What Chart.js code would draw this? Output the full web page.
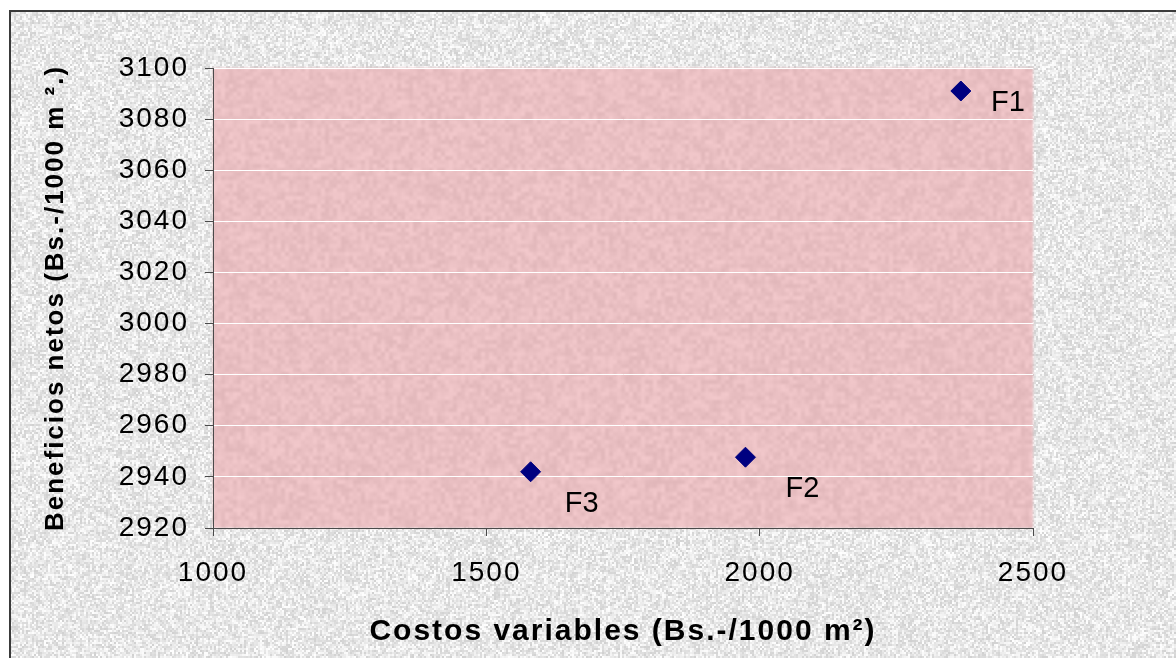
<!DOCTYPE html>
<html>
<head>
<meta charset="utf-8">
<script src="https://cdn.jsdelivr.net/npm/chart.js@4/dist/chart.umd.min.js"></script>
<style>
  html, body { margin: 0; padding: 0; background: #fff; }
  canvas { display: block; }
</style>
</head>
<body>
<canvas id="chart" width="1176" height="658"></canvas>
<script>
// Tratamientos: costos variables vs beneficios netos
const labels = ['F1', 'F2', 'F3'];
const costos = [2368, 1974, 1581];
const beneficios = [3091, 2947.7, 2942];
const yTicks = [2920, 2940, 2960, 2980, 3000, 3020, 3040, 3060, 3080, 3100];
const xTicks = [1000, 1500, 2000, 2500];

// textura granulada (generador fijo para que salga igual cada vez)
function makeTexture(w, h, base, spread, block, seed) {
  const c = document.createElement('canvas');
  c.width = w; c.height = h;
  const g = c.getContext('2d');
  let s = seed;
  const rnd = () => { s = (s * 1664525 + 1013904223) % 4294967296; return s / 4294967296; };
  for (let y = 0; y < h; y += block) {
    for (let x = 0; x < w; x += block) {
      const d = (rnd() - 0.5) * spread;
      g.fillStyle = `rgb(${base[0] + d | 0},${base[1] + d | 0},${base[2] + d | 0})`;
      g.fillRect(x, y, block, block);
    }
  }
  return c;
}
const grayTex = makeTexture(1176, 658, [232, 232, 232], 46, 2, 12345);
const pinkTex = makeTexture(830, 470, [234, 192, 195], 18, 4, 777);

const fondo = {
  id: 'fondo',
  beforeDraw(chart) {
    const ctx = chart.ctx;
    const a = chart.chartArea;
    ctx.save();
    ctx.fillStyle = '#fff';
    ctx.fillRect(0, 0, chart.width, chart.height);
    ctx.drawImage(grayTex, 10, 11, chart.width - 10, chart.height - 11, 10, 11, chart.width - 10, chart.height - 11);
    ctx.strokeStyle = '#3a3a3a';
    ctx.lineWidth = 2;
    ctx.beginPath();
    ctx.moveTo(10, chart.height);
    ctx.lineTo(10, 11);
    ctx.lineTo(chart.width, 11);
    ctx.stroke();
    // zona rosada del gráfico, algo suavizada
    ctx.filter = 'blur(1px)';
    ctx.drawImage(pinkTex, 0, 0, a.right - a.left, a.bottom - a.top, a.left, a.top, a.right - a.left, a.bottom - a.top);
    ctx.restore();
    ctx.letterSpacing = '2px';
  }
};

// etiquetas F1, F2, F3 junto a cada punto
const etiquetas = {
  id: 'etiquetas',
  afterDatasetsDraw(chart, args, opts) {
    const ctx = chart.ctx;
    const meta = chart.getDatasetMeta(0);
    ctx.save();
    ctx.letterSpacing = '0px';
    ctx.font = '29px "Liberation Sans", Arial, sans-serif';
    ctx.fillStyle = '#000';
    ctx.textAlign = 'center';
    ctx.textBaseline = 'middle';
    meta.data.forEach((pt, i) => {
      const off = opts.offsets[i];
      ctx.fillText(labels[i], pt.x + off[0], pt.y + off[1]);
    });
    ctx.restore();
  }
};

const tickFont = { family: '"Liberation Sans", Arial, sans-serif', size: 28 };

new Chart(document.getElementById('chart'), {
  type: 'scatter',
  data: {
    datasets: [{
      data: costos.map((x, i) => ({ x: x, y: beneficios[i] })),
      pointStyle: 'rectRot',
      pointRadius: 10,
      pointHoverRadius: 10,
      backgroundColor: '#000080',
      borderColor: '#000080',
      borderWidth: 1
    }]
  },
  options: {
    responsive: false,
    animation: false,
    layout: { padding: { left: 0, top: 68, right: 143, bottom: 0 } },
    plugins: {
      legend: { display: false },
      tooltip: { enabled: false },
      etiquetas: { offsets: [[47, 12], [57, 32], [51, 32]] }
    },
    scales: {
      x: {
        type: 'linear',
        min: 1000,
        max: 2500,
        afterBuildTicks: (s) => { s.ticks = xTicks.map(v => ({ value: v })); },
        afterFit: (s) => { s.height = 130; },
        grid: { drawOnChartArea: false, tickLength: 8, tickColor: '#4a4a4a' },
        border: { color: '#4a4a4a', width: 1 },
        ticks: {
          color: '#000',
          padding: 20,
          maxRotation: 0,
          font: tickFont,
          callback: (v) => String(v)
        },
        title: {
          display: true,
          text: 'Costos variables (Bs.-/1000 m²)',
          color: '#000',
          padding: { top: 0, bottom: 8 },
          font: { family: '"Liberation Sans", Arial, sans-serif', size: 30, weight: 'bold' }
        }
      },
      y: {
        type: 'linear',
        min: 2920,
        max: 3100,
        afterBuildTicks: (s) => { s.ticks = yTicks.map(v => ({ value: v })); },
        afterFit: (s) => { s.width = 213; },
        grid: { color: '#ffffff', lineWidth: 1, tickLength: 8, tickColor: '#4a4a4a' },
        border: { color: '#4a4a4a', width: 1 },
        ticks: {
          color: '#000',
          padding: 16,
          font: tickFont,
          callback: (v) => String(v)
        },
        title: {
          display: true,
          text: 'Beneficios netos (Bs.-/1000 m ².)',
          color: '#000',
          padding: { top: 40, bottom: 0 },
          font: { family: '"Liberation Sans", Arial, sans-serif', size: 26, weight: 'bold' }
        }
      }
    }
  },
  plugins: [fondo, etiquetas]
});
</script>
</body>
</html>
